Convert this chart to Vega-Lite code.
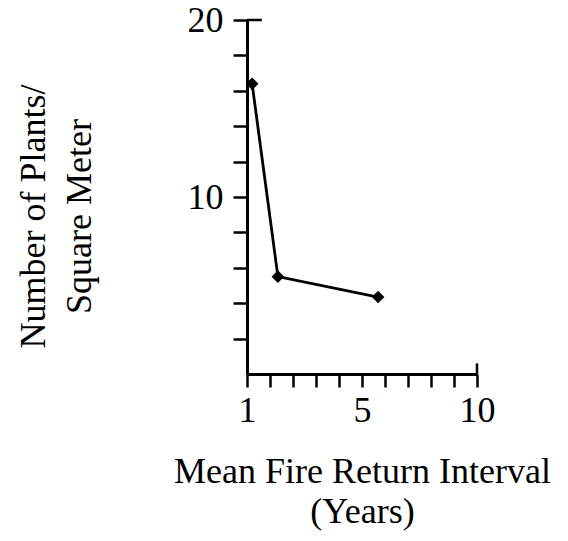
{
  "$schema": "https://vega.github.io/schema/vega-lite/v6.json",
  "width": 230,
  "height": 354,
  "autosize": {"type": "none"},
  "padding": {"left": 247, "top": 20, "right": 91, "bottom": 167},
  "background": "white",
  "config": {
    "view": {"stroke": null},
    "font": "Liberation Serif",
    "axis": {
      "domainColor": "black",
      "domainWidth": 3,
      "tickColor": "black",
      "tickWidth": 2.5,
      "grid": false,
      "labelFont": "Liberation Serif",
      "labelFontSize": 36,
      "labelColor": "black",
      "titleFont": "Liberation Serif",
      "titleFontSize": 36,
      "titleFontWeight": "normal",
      "titleColor": "black"
    }
  },
  "encoding": {
    "x": {
      "field": "interval", "type": "quantitative",
      "scale": {"domain": [1, 10], "nice": false, "zero": false},
      "axis": {
        "title": ["Mean Fire Return Interval", "(Years)"],
        "titleLineHeight": 40,
        "titlePadding": 26,
        "values": [1, 1.9, 2.8, 3.7, 4.6, 5.5, 6.4, 7.3, 8.2, 9.1, 10],
        "labelExpr": "datum.value == 1 ? '1' : datum.value == 5.5 ? '5' : datum.value == 10 ? '10' : ''",
        "tickSize": 13,
        "labelPadding": 6,
        "labelFlush": false,
        "labelOverlap": false
      }
    },
    "y": {
      "field": "plants", "type": "quantitative",
      "scale": {"domain": [0, 20], "nice": false},
      "axis": {
        "title": ["Number of Plants/", "Square Meter"],
        "titleLineHeight": 46,
        "titleX": -195,
        "titleY": 196,
        "values": [2, 4, 6, 8, 10, 12, 14, 16, 18, 20],
        "labelExpr": "datum.value == 10 || datum.value == 20 ? datum.label : ''",
        "tickSize": 14,
        "labelPadding": 10,
        "labelFlush": false,
        "labelOverlap": false
      }
    }
  },
  "layer": [
    {
      "data": {"values": [
        {"interval": 1.2, "plants": 16.4},
        {"interval": 2.21, "plants": 5.5},
        {"interval": 6.13, "plants": 4.35}
      ]},
      "mark": {"type": "line", "color": "black", "strokeWidth": 2.8, "point": {"shape": "diamond", "size": 160, "filled": true, "color": "black"}}
    },
    {
      "data": {"values": [
        {"interval": 1, "interval2": 1.58, "plants": 20, "plants2": 20},
        {"interval": 10, "interval2": 10, "plants": 0, "plants2": 0.6}
      ]},
      "mark": {"type": "rule", "color": "black", "strokeWidth": 2.5},
      "encoding": {
        "x2": {"field": "interval2"},
        "y2": {"field": "plants2"}
      }
    }
  ]
}
